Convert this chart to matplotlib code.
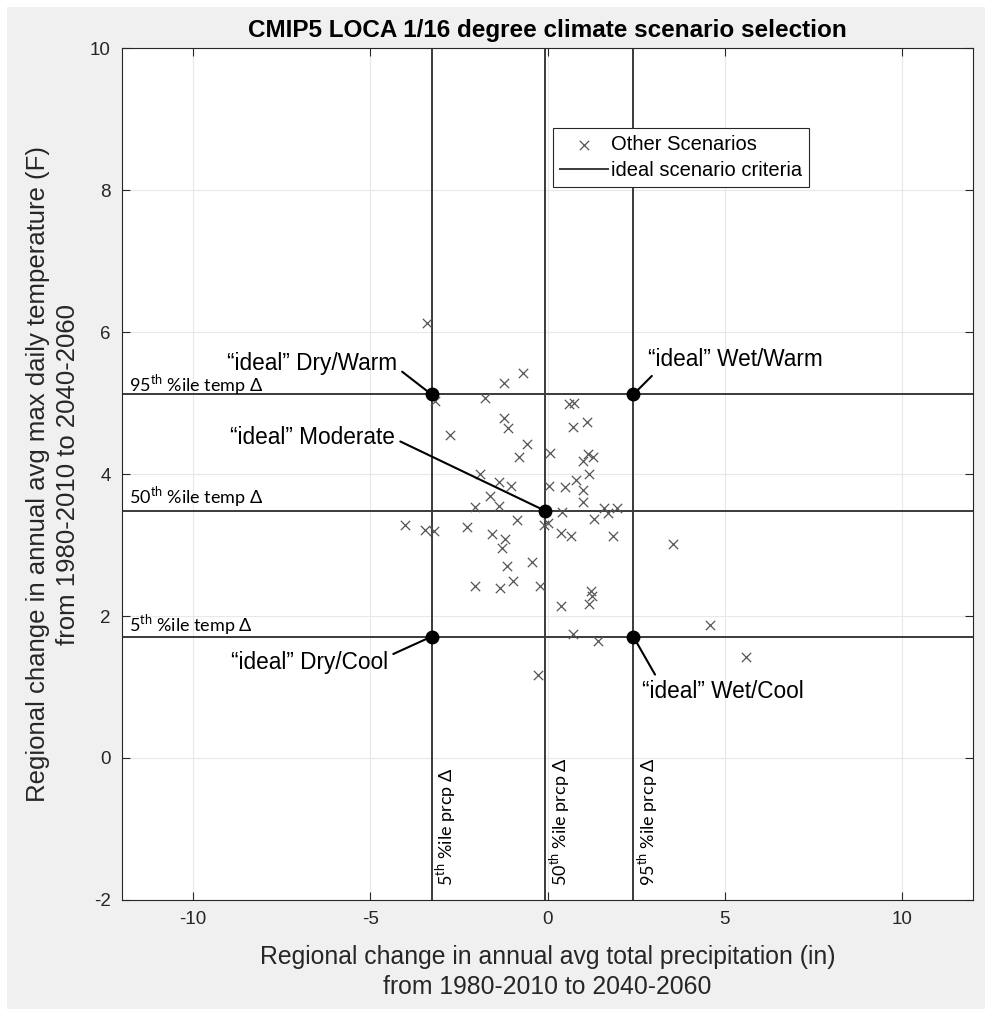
import matplotlib
matplotlib.use("Agg")
import matplotlib.pyplot as plt
from matplotlib.patches import Rectangle

plt.rcParams['font.family'] = ['Liberation Sans', 'DejaVu Sans']
plt.rcParams['mathtext.fontset'] = 'custom'
plt.rcParams['mathtext.rm'] = 'Lato'
plt.rcParams['axes.unicode_minus'] = False

# other scenarios: precipitation change (in), temperature change (F)
prcp = [-3.40, -3.17, -1.77, -1.24, -0.70, -2.75, -1.24, -1.12, -0.59, -0.81,
        0.06, 0.62, 0.76, 0.73, 1.10, 1.01, 1.15, 1.29, 1.18, -1.91,
        -1.38, -1.04, -1.63, 0.03, 0.48, 0.81, 1.01, 1.01, 0.42, 1.60,
        1.71, 1.97, 1.32, 0.00, 0.37, 0.65, 1.85, 3.54, 1.24, 1.26,
        1.18, 0.37, 4.58, 0.73, 1.43, 5.59, -2.05, -1.38, -0.87, -4.02,
        -3.46, -3.20, -2.28, -0.11, -1.57, -1.21, -1.29, -1.15, -0.45, -2.05,
        -1.35, -0.98, -0.20, -0.28]
temp = [6.13, 5.03, 5.07, 5.28, 5.42, 4.55, 4.79, 4.65, 4.42, 4.24,
        4.30, 4.99, 5.00, 4.66, 4.73, 4.18, 4.28, 4.24, 4.00, 4.00,
        3.89, 3.83, 3.69, 3.83, 3.82, 3.92, 3.77, 3.60, 3.46, 3.52,
        3.45, 3.52, 3.37, 3.31, 3.17, 3.12, 3.12, 3.01, 2.35, 2.28,
        2.17, 2.14, 1.87, 1.75, 1.65, 1.42, 3.54, 3.55, 3.35, 3.28,
        3.21, 3.20, 3.25, 3.28, 3.15, 3.08, 2.96, 2.70, 2.76, 2.42,
        2.39, 2.49, 2.42, 1.17]

# percentile criteria (5th, 50th, 95th)
prcp_pct = [-3.27, -0.06, 2.42]
temp_pct = [1.71, 3.48, 5.12]
pct_names = ['5', '50', '95']

# ideal scenarios
ideal_names = ['\u201cideal\u201d Dry/Warm', '\u201cideal\u201d Wet/Warm',
               '\u201cideal\u201d Moderate', '\u201cideal\u201d Dry/Cool',
               '\u201cideal\u201d Wet/Cool']
ideal_x = [prcp_pct[0], prcp_pct[2], prcp_pct[1], prcp_pct[0], prcp_pct[2]]
ideal_y = [temp_pct[2], temp_pct[2], temp_pct[1], temp_pct[0], temp_pct[0]]

fig = plt.figure(figsize=(9.85, 10.11), dpi=100)
fig.patches.append(Rectangle((0.007, 0.002), 0.993, 0.991, transform=fig.transFigure,
                             facecolor='#f0f0f0', edgecolor='none', zorder=-10))
ax = fig.add_axes([0.1239, 0.1098, 0.8639, 0.8427])

ax.grid(True, color='#e8e8e8', lw=0.8)
ax.set_axisbelow(True)

ax.scatter(prcp, temp, marker='x', s=45, color='#555555', linewidths=0.9,
           label='Other Scenarios', zorder=3)

lc = '#3a3a3a'
for i, v in enumerate(prcp_pct):
    ax.axvline(v, color=lc, lw=1.4, zorder=2,
               label='ideal scenario criteria' if i == 0 else None)
for v in temp_pct:
    ax.axhline(v, color=lc, lw=1.4, zorder=2)

ax.plot(ideal_x, ideal_y, 'o', color='black', ms=9, zorder=4)

# percentile labels
lab_font = ['Lato', 'DejaVu Sans']
offs = [0.08, 0.11, 0.05]
for n, v, o in zip(pct_names, temp_pct, offs):
    ax.text(-11.8, v + o, n + r'$^{\mathrm{th}}$ %ile temp ' + '\u0394',
            fontsize=13, family=lab_font, va='baseline', ha='left')
for n, v in zip(pct_names, prcp_pct):
    ax.text(v + 0.4, -1.8, n + r'$^{\mathrm{th}}$ %ile prcp ' + '\u0394',
            fontsize=13, family=lab_font, va='bottom', ha='center', rotation=90)

# ideal scenario labels
txt_pos = [(-4.24, 5.56), (2.83, 5.61), (-4.3, 4.51), (-4.5, 1.35), (2.66, 0.94)]
txt_ha = ['right', 'left', 'right', 'right', 'left']
rel = [(1.0, 0.3), (0.05, 0.0), (1.0, 0.45), (1.0, 0.75), (0.1, 1.0)]
for name, x, y, (tx, ty), ha, rp in zip(ideal_names, ideal_x, ideal_y, txt_pos, txt_ha, rel):
    ax.annotate(name, xy=(x, y), xytext=(tx, ty), fontsize=16.3, ha=ha, va='center',
                arrowprops=dict(arrowstyle='-', color='black', lw=1.5, relpos=rp,
                                shrinkA=2, shrinkB=0), zorder=5)

ax.set_xlim(-12, 12)
ax.set_ylim(-2, 10)
ax.set_xticks([-10, -5, 0, 5, 10])
ax.set_yticks(range(-2, 11, 2))
ax.tick_params(direction='in', top=True, right=True, length=6, width=0.8,
               colors='#262626', labelsize=13.5, pad=8)
for s in ax.spines.values():
    s.set_color('#262626')
    s.set_linewidth(0.8)

ax.set_xlabel('Regional change in annual avg total precipitation (in)\nfrom 1980-2010 to 2040-2060',
              fontsize=17.8, color='#262626', labelpad=12, linespacing=1.35)
ax.set_ylabel('Regional change in annual avg max daily temperature (F)\nfrom 1980-2010 to 2040-2060',
              fontsize=18.5, color='#262626', labelpad=7, linespacing=1.35)
ax.set_title('CMIP5 LOCA 1/16 degree climate scenario selection', fontsize=17.5,
             fontweight='bold', pad=8)

leg = ax.legend(loc='upper left', bbox_to_anchor=(0.506, 0.906), fontsize=14.5,
                frameon=True, fancybox=False, edgecolor='#262626', framealpha=1,
                handlelength=2.4, borderpad=0.35, labelspacing=0.35, handletextpad=0.15,
                borderaxespad=0)
leg.get_frame().set_linewidth(0.8)

fig.savefig('out.png', dpi=100, facecolor='white')
